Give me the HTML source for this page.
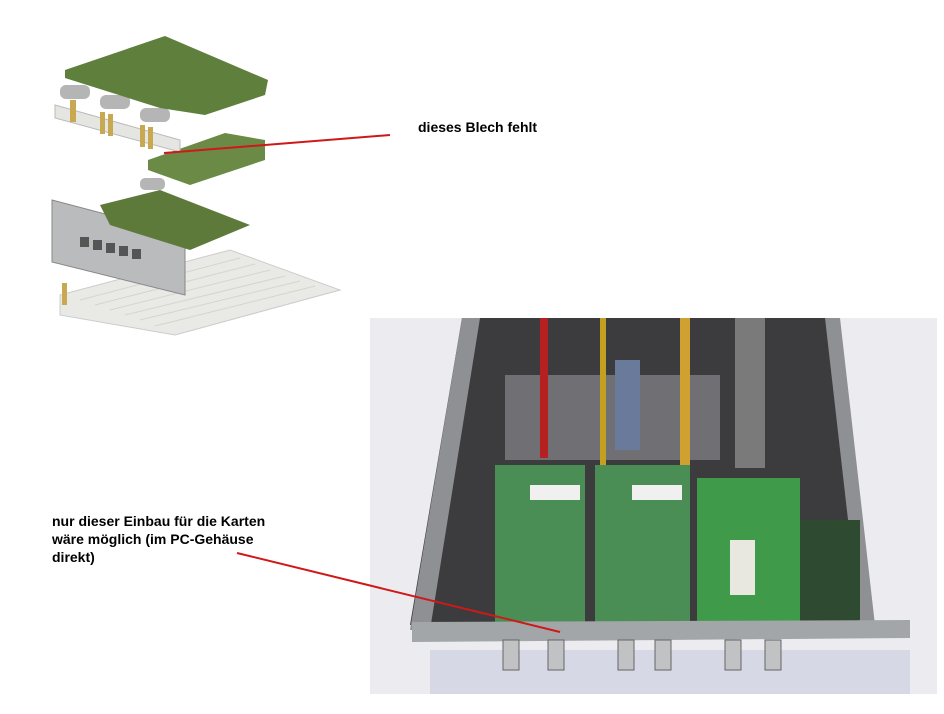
<!DOCTYPE html>
<html><head><meta charset="utf-8"><style>
html,body{margin:0;padding:0;background:#fff;width:944px;height:714px;overflow:hidden}
.t{position:absolute;font-family:"Liberation Sans",Arial,sans-serif;font-weight:bold;font-size:14px;color:#000;line-height:18px}
</style></head><body>
<svg width="944" height="714" style="position:absolute;left:0;top:0">
<g>
<polygon points="60,295 230,250 340,290 175,335 60,315" fill="#e9e9e6" stroke="#ccc"/>
<g stroke="#d4d4d0" stroke-width="1">
<line x1="80" y1="300" x2="240" y2="258"/><line x1="95" y1="305" x2="255" y2="264"/><line x1="110" y1="310" x2="270" y2="270"/><line x1="125" y1="315" x2="285" y2="276"/><line x1="140" y1="320" x2="300" y2="281"/><line x1="155" y1="326" x2="315" y2="286"/>
</g>
<rect x="62" y="283" width="5" height="22" fill="#c8a850"/>
<polygon points="52,200 185,235 185,295 52,262" fill="#b9bbbd" stroke="#888"/>
<g fill="#555"><rect x="80" y="237" width="9" height="10"/><rect x="93" y="240" width="9" height="10"/><rect x="106" y="243" width="9" height="10"/><rect x="119" y="246" width="9" height="10"/><rect x="132" y="249" width="9" height="10"/></g>
<polygon points="100,205 160,190 250,225 190,250 110,225" fill="#5e7a3a"/>
<polygon points="148,160 225,133 265,140 265,160 190,185 148,170" fill="#6b8a45"/>
<rect x="140" y="178" width="25" height="12" rx="5" fill="#b5b5b5"/>
<polygon points="55,105 180,140 180,152 55,118" fill="#e5e5e2" stroke="#bbb"/>
<g fill="#c8a850"><rect x="70" y="100" width="6" height="22"/><rect x="100" y="112" width="5" height="22"/><rect x="108" y="114" width="5" height="22"/><rect x="140" y="125" width="5" height="22"/><rect x="148" y="127" width="5" height="22"/></g>
<g fill="#b5b5b5"><rect x="60" y="85" width="30" height="14" rx="6"/><rect x="100" y="95" width="30" height="14" rx="6"/><rect x="140" y="108" width="30" height="14" rx="6"/></g>
<polygon points="65,70 165,36 268,80 265,95 205,115 160,108 65,78" fill="#5f7f3c"/>
</g>
<line x1="164" y1="153" x2="390" y2="135" stroke="#d01818" stroke-width="2"/>
<rect x="370" y="318" width="567" height="376" fill="#ececf0"/>
<rect x="430" y="650" width="480" height="44" fill="#d6d8e6"/>
<polygon points="462,318 830,318 860,625 410,625" fill="#3c3c3e"/>
<polygon points="462,318 480,318 430,630 410,630" fill="#8e9094"/>
<polygon points="825,318 840,318 875,625 860,625" fill="#8e9094"/>
<polygon points="505,375 720,375 720,460 505,460" fill="#707074"/>
<rect x="540" y="318" width="8" height="140" fill="#b52020"/>
<rect x="600" y="318" width="6" height="150" fill="#c4a020"/>
<rect x="680" y="318" width="10" height="150" fill="#d0a030"/>
<rect x="615" y="360" width="25" height="90" fill="#6a7a9a"/>
<rect x="735" y="318" width="30" height="150" fill="#7a7a7a"/>
<rect x="795" y="520" width="65" height="100" fill="#2e4a30"/>
<rect x="495" y="465" width="90" height="160" fill="#4a8d55"/>
<rect x="595" y="465" width="95" height="160" fill="#4a8d55"/>
<rect x="697" y="478" width="103" height="145" fill="#3f9a4a"/>
<rect x="530" y="485" width="50" height="15" fill="#f0f0f0"/>
<rect x="632" y="485" width="50" height="15" fill="#f0f0f0"/>
<rect x="730" y="540" width="25" height="55" fill="#e8e8e0"/>
<polygon points="412,622 910,620 910,638 412,642" fill="#a2a6a8"/>
<g fill="#c0c2c4" stroke="#666"><rect x="503" y="640" width="16" height="30"/><rect x="548" y="640" width="16" height="30"/><rect x="618" y="640" width="16" height="30"/><rect x="655" y="640" width="16" height="30"/><rect x="725" y="640" width="16" height="30"/><rect x="765" y="640" width="16" height="30"/></g>
<line x1="237" y1="553" x2="560" y2="632" stroke="#d01818" stroke-width="2"/>
</svg>
<div class="t" style="left:418px;top:118px">dieses Blech fehlt</div>
<div class="t" style="left:52px;top:512px">nur dieser Einbau für die Karten<br>wäre möglich (im PC-Gehäuse<br>direkt)</div>
</body></html>
